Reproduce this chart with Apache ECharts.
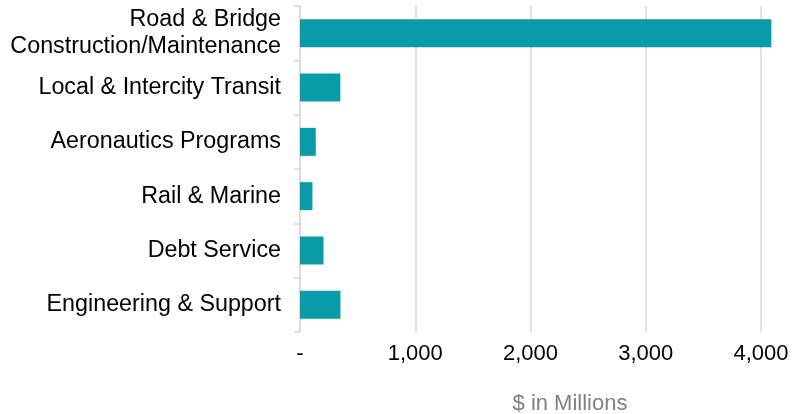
<!DOCTYPE html>
<html>
<head>
<meta charset="utf-8">
<script src="https://cdn.jsdelivr.net/npm/echarts@6/dist/echarts.min.js"></script>
<style>
html,body{margin:0;padding:0;background:#fff;}
#c{width:793px;height:414px;}
</style>
</head>
<body>
<div id="c"></div>
<script>
const categories = [
  "Road & Bridge\nConstruction/Maintenance",
  "Local & Intercity Transit",
  "Aeronautics Programs",
  "Rail & Marine",
  "Debt Service",
  "Engineering & Support"
];
const values = [4090, 350, 137, 108, 204, 351];
const xTicks = [0, 1000, 2000, 3000, 4000];
const axisTitle = "$ in Millions";

const chart = echarts.init(document.getElementById('c'));
const FONT = '"Liberation Sans", Arial, sans-serif';
chart.setOption({
  animation: false,
  backgroundColor: '#ffffff',
  title: {
    text: axisTitle,
    left: 565,
    top: 388,
    textAlign: 'center',
    textStyle: { fontFamily: FONT, fontSize: 22, fontWeight: 'normal', color: '#808080' }
  },
  grid: { left: 300, right: 32, top: 6, bottom: 82, containLabel: false },
  xAxis: {
    type: 'value',
    min: xTicks[0],
    max: xTicks[xTicks.length - 1],
    interval: 1000,
    axisLine: { show: false },
    axisTick: { show: false },
    splitLine: { show: true, lineStyle: { color: '#d9d9d9', width: 1.5 } },
    axisLabel: {
      margin: 11,
      fontFamily: FONT,
      fontSize: 22,
      color: '#000',
      formatter: function (v) { return v === 0 ? '-' : v.toLocaleString('en-US'); }
    }
  },
  yAxis: {
    type: 'category',
    inverse: true,
    data: categories,
    axisLine: { show: true, lineStyle: { color: '#d9d9d9', width: 1.5 } },
    axisTick: { show: true, length: 6, lineStyle: { color: '#d9d9d9', width: 1.5 } },
    axisLabel: {
      margin: 19,
      fontFamily: FONT,
      fontSize: 23.3,
      lineHeight: 27,
      color: '#000',
      align: 'right'
    }
  },
  series: [{
    type: 'bar',
    data: values,
    barWidth: 28,
    clip: false,
    itemStyle: { color: '#099ba7' }
  }]
});
</script>
</body>
</html>
